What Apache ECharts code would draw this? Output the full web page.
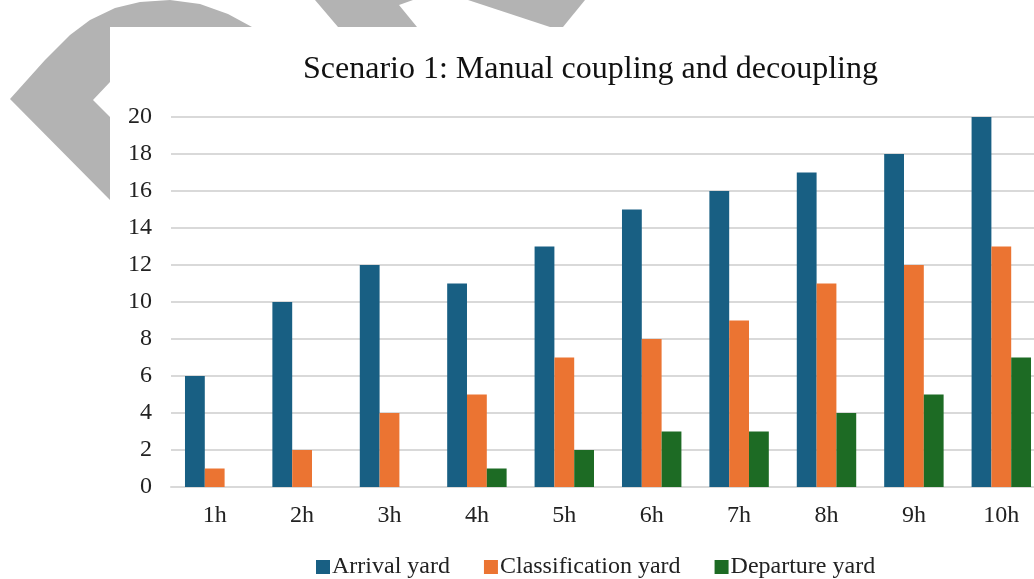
<!DOCTYPE html>
<html>
<head>
<meta charset="utf-8">
<script src="https://cdn.jsdelivr.net/npm/echarts@6/dist/echarts.min.js"></script>
<style>
html,body{margin:0;padding:0;background:#fff;}
#chart{width:1034px;height:579px;}
</style>
</head>
<body>
<div id="chart"></div>
<script>
const categories = ['1h','2h','3h','4h','5h','6h','7h','8h','9h','10h'];
const arrivalYard = [6,10,12,11,13,15,16,17,18,20];
const classificationYard = [1,2,4,5,7,8,9,11,12,13];
const departureYard = [0,0,0,1,2,3,3,4,5,7];
const seriesNames = ['Arrival yard','Classification yard','Departure yard'];
const titleText = 'Scenario 1: Manual coupling and decoupling';

const FONT = '"Liberation Serif", "Times New Roman", serif';
const chart = echarts.init(document.getElementById('chart'));
const gray = '#b3b3b3';
chart.setOption({
  backgroundColor: '#fff',
  animation: false,
  title: {
    text: titleText,
    left: 303, top: 54, padding: 0,
    textStyle: {fontFamily: FONT, fontSize: 32, fontWeight: 'normal', color: '#111'}
  },
  legend: {
    data: seriesNames,
    left: 316, top: 555, padding: 0,
    itemWidth: 14, itemHeight: 14, itemGap: 34,
    icon: 'rect',
    textStyle: {fontFamily: FONT, fontSize: 24, color: '#222', padding: [0,0,0,-3]}
  },
  grid: {left: 171, top: 117, width: 874, height: 370, containLabel: false, outerBoundsMode: 'none'},
  xAxis: {
    type: 'category', data: categories,
    axisLine: {lineStyle: {color: '#d9d9d9', width: 2}},
    axisTick: {show: false},
    axisLabel: {fontFamily: FONT, fontSize: 24, color: '#222', margin: 17}
  },
  yAxis: {
    type: 'value', min: 0, max: 20, interval: 2,
    axisLine: {show: false}, axisTick: {show: false},
    splitLine: {lineStyle: {color: '#d9d9d9', width: 2}},
    axisLabel: {fontFamily: FONT, fontSize: 24, color: '#222', margin: 19}
  },
  series: [
    {name: seriesNames[0], type: 'bar', data: arrivalYard, barGap: '0%', barCategoryGap: '32%', itemStyle: {color: '#185f83'}},
    {name: seriesNames[1], type: 'bar', data: classificationYard, barGap: '0%', barCategoryGap: '32%', itemStyle: {color: '#eb7432'}},
    {name: seriesNames[2], type: 'bar', data: departureYard, barGap: '0%', barCategoryGap: '32%', itemStyle: {color: '#1d6b24'}}
  ],
  graphic: [
    {type: 'polygon', z: -10, shape: {points: [[10,99],[45,60],[70,35],[90,20],[115,8],[140,2],[170,0],[200,4],[228,14],[252,27],[110,27],[110,82],[93,100],[110,117],[110,200]]}, style: {fill: gray}},
    {type: 'polygon', z: -10, shape: {points: [[315,0],[413,0],[399,5],[417,27],[338,27]]}, style: {fill: gray}},
    {type: 'polygon', z: -10, shape: {points: [[468,0],[585,0],[563,27],[550,27]]}, style: {fill: gray}}
  ]
});
</script>
</body>
</html>
